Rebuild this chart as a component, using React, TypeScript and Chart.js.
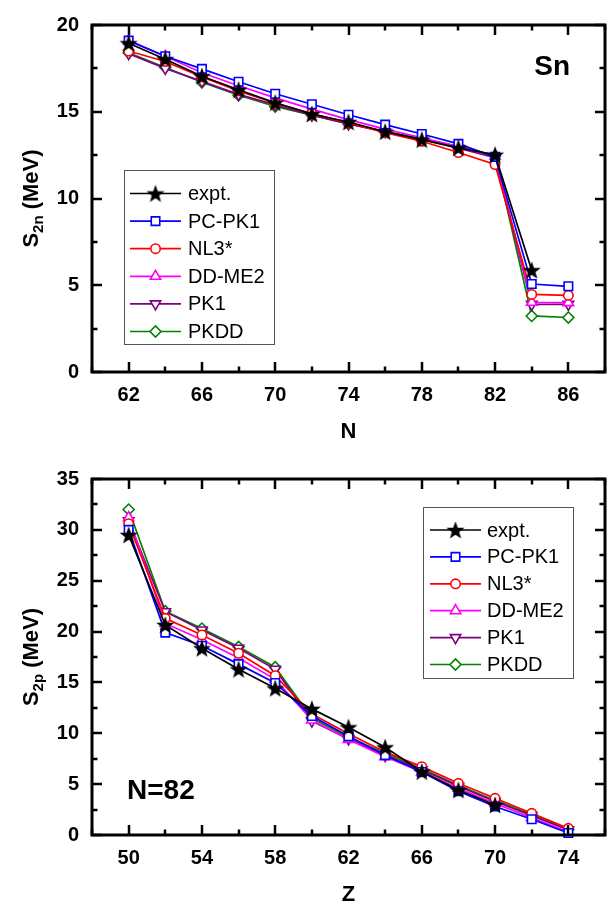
import React, { useEffect, useRef } from 'react';
import { Chart, registerables } from 'chart.js';

Chart.register(...registerables);

// ---------------- DATA ----------------
const snN = [62, 64, 66, 68, 70, 72, 74, 76, 78, 80, 82, 84, 86];
const snExpt = [18.95, 18.03, 17.05, 16.27, 15.52, 14.87, 14.41, 13.85, 13.39, 12.92, 12.52, 5.87, null];
const snPCPK1 = [19.1, 18.2, 17.47, 16.73, 16.04, 15.43, 14.83, 14.26, 13.72, 13.15, 12.4, 5.07, 4.94];
const snNL3 = [18.5, 17.9, 17.0, 16.2, 15.5, 14.9, 14.35, 13.8, 13.3, 12.65, 11.96, 4.47, 4.42];
const snDDME2 = [19.1, 18.2, 17.25, 16.5, 15.8, 15.15, 14.55, 14.0, 13.5, 13.0, 12.45, 4.02, 4.0];
const snPK1 = [18.35, 17.5, 16.75, 16.0, 15.4, 14.8, 14.3, 13.85, 13.4, 12.9, 12.35, 3.9, 3.9];
const snPKDD = [18.4, 17.55, 16.7, 15.95, 15.3, 14.8, 14.3, 13.85, 13.45, 13.0, 12.45, 3.23, 3.14];

const n82Z = [50, 52, 54, 56, 58, 60, 62, 64, 66, 68, 70, 72, 74];
const n82Expt = [29.5, 20.65, 18.36, 16.29, 14.42, 12.4, 10.59, 8.62, 6.23, 4.42, 2.95, null, null];
const n82PCPK1 = [30.0, 19.9, 18.6, 16.8, 14.95, 11.7, 9.7, 7.85, 6.2, 4.3, 2.8, 1.55, 0.2];
const n82NL3 = [30.6, 21.3, 19.67, 17.87, 15.66, 11.9, 9.95, 8.15, 6.72, 5.08, 3.61, 2.13, 0.66];
const n82DDME2 = [31.2, 20.8, 19.2, 17.4, 15.3, 11.3, 9.4, 7.7, 6.2, 4.6, 3.1, 1.7, 0.3];
const n82PK1 = [30.9, 21.95, 20.16, 18.36, 16.29, 11.2, 9.45, 7.8, 6.4, 4.8, 3.3, 1.9, 0.5];
const n82PKDD = [32.0, 22.0, 20.3, 18.5, 16.5, 11.5, 9.6, 8.0, 6.5, 4.9, 3.4, 2.0, 0.55];

const seriesLabels = ['expt.', 'PC-PK1', 'NL3*', 'DD-ME2', 'PK1', 'PKDD'];
const seriesColors = ['#000000', '#0000ff', '#ff0000', '#ff00ff', '#800080', '#008000'];
const markerStyles = ['star', 'rect', 'circle', 'triangle', 'triangleDown', 'rectRot'];
const markerRadii = [9, 6, 4.7, 6, 6, 5.5];

const FONT = '"Liberation Sans", Arial, sans-serif';

// ---------------- helpers ----------------
let starImg: HTMLCanvasElement | null = null;
function getStar(): HTMLCanvasElement {
  if (starImg) return starImg;
  const c = document.createElement('canvas');
  c.width = 20;
  c.height = 20;
  const g = c.getContext('2d')!;
  g.beginPath();
  for (let i = 0; i < 10; i++) {
    const rr = i % 2 === 0 ? 9.5 : 3.9;
    const a = -Math.PI / 2 + (i * Math.PI) / 5;
    const px = 10 + rr * Math.cos(a);
    const py = 10.8 + rr * Math.sin(a);
    if (i === 0) g.moveTo(px, py);
    else g.lineTo(px, py);
  }
  g.closePath();
  g.fillStyle = '#000';
  g.fill();
  starImg = c;
  return c;
}

function drawMarker(ctx: CanvasRenderingContext2D, style: string, x: number, y: number, r: number, color: string) {
  if (style === 'star') {
    const s = getStar();
    ctx.drawImage(s, x - s.width / 2, y - s.height / 2);
    return;
  }
  ctx.save();
  ctx.beginPath();
  if (style === 'rect') {
    const h = r * Math.SQRT1_2;
    ctx.rect(x - h, y - h, 2 * h, 2 * h);
  } else if (style === 'circle') {
    ctx.arc(x, y, r, 0, Math.PI * 2);
  } else if (style === 'triangle' || style === 'triangleDown') {
    let rad = style === 'triangle' ? 0 : Math.PI;
    for (let i = 0; i < 3; i++) {
      const px = x + Math.sin(rad) * r;
      const py = y - Math.cos(rad) * r;
      if (i === 0) ctx.moveTo(px, py);
      else ctx.lineTo(px, py);
      rad += (2 * Math.PI) / 3;
    }
    ctx.closePath();
  } else if (style === 'rectRot') {
    ctx.moveTo(x - r, y);
    ctx.lineTo(x, y - r);
    ctx.lineTo(x + r, y);
    ctx.lineTo(x, y + r);
    ctx.closePath();
  }
  ctx.fillStyle = '#fff';
  ctx.fill();
  ctx.lineWidth = 1.6;
  ctx.strokeStyle = color;
  ctx.stroke();
  ctx.restore();
}

type PanelCfg = {
  height: number;
  xs: number[];
  series: (number | null)[][];
  xMin: number;
  xMax: number;
  xFirstLabel: number;
  xLastLabel: number;
  yMax: number;
  plotTop: number;
  plotBottom: number;
  xTitle: string;
  ySub: string;
  note: string;
  noteX: number;
  noteY: number;
  noteAlign: CanvasTextAlign;
  legend: { x: number; y: number; w: number; h: number; row0: number; step: number; lx0: number; lx1: number; tx: number };
};

const PLOT_LEFT = 92;
const PLOT_RIGHT = 605;

function makePlugin(cfg: PanelCfg) {
  return {
    id: 'decor',
    afterDraw(chart: any) {
      const ctx: CanvasRenderingContext2D = chart.ctx;
      const { left, right, top, bottom } = chart.chartArea;
      const xs = chart.scales.x;
      const ys = chart.scales.y;
      ctx.save();
      // ticks
      ctx.strokeStyle = '#000';
      ctx.lineWidth = 2.5;
      ctx.lineCap = 'butt';
      for (let v = cfg.xMin; v <= cfg.xMax + 1e-6; v += 2) {
        const px = Math.round(xs.getPixelForValue(v));
        const major = (v - cfg.xFirstLabel) % 4 === 0;
        const len = major ? 10 : 5.5;
        ctx.beginPath();
        ctx.moveTo(px, bottom);
        ctx.lineTo(px, bottom - len);
        ctx.moveTo(px, top);
        ctx.lineTo(px, top + len);
        ctx.stroke();
      }
      for (let v = 0; v <= cfg.yMax + 1e-6; v += 2.5) {
        const py = Math.round(ys.getPixelForValue(v));
        const major = v % 5 === 0;
        const len = major ? 10 : 5.5;
        ctx.beginPath();
        ctx.moveTo(left, py);
        ctx.lineTo(left + len, py);
        ctx.moveTo(right, py);
        ctx.lineTo(right - len, py);
        ctx.stroke();
      }
      // frame
      ctx.lineWidth = 3;
      ctx.strokeRect(left, top, right - left, bottom - top);

      // x title
      ctx.fillStyle = '#000';
      ctx.font = `bold 22px ${FONT}`;
      ctx.textAlign = 'center';
      ctx.textBaseline = 'middle';
      ctx.fillText(cfg.xTitle, (left + right) / 2, bottom + 60);

      // y title with subscript
      const cx = 30;
      const cy = (top + bottom) / 2;
      ctx.save();
      ctx.translate(cx, cy);
      ctx.rotate(-Math.PI / 2);
      ctx.textAlign = 'left';
      ctx.textBaseline = 'alphabetic';
      const fMain = `bold 22px ${FONT}`;
      const fSub = `bold 15px ${FONT}`;
      ctx.font = fMain;
      const w1 = ctx.measureText('S').width;
      const w3 = ctx.measureText(' (MeV)').width;
      ctx.font = fSub;
      const w2 = ctx.measureText(cfg.ySub).width;
      let x = -(w1 + w2 + w3) / 2;
      ctx.font = fMain;
      ctx.fillText('S', x, 8);
      x += w1;
      ctx.font = fSub;
      ctx.fillText(cfg.ySub, x, 13);
      x += w2;
      ctx.font = fMain;
      ctx.fillText(' (MeV)', x, 8);
      ctx.restore();

      // note text
      ctx.font = `bold 28px ${FONT}`;
      ctx.textAlign = cfg.noteAlign;
      ctx.textBaseline = 'middle';
      ctx.fillText(cfg.note, cfg.noteX, cfg.noteY);

      // legend
      const L = cfg.legend;
      ctx.fillStyle = '#fff';
      ctx.fillRect(L.x, L.y, L.w, L.h);
      ctx.strokeStyle = '#555';
      ctx.lineWidth = 1;
      ctx.strokeRect(L.x + 0.5, L.y + 0.5, L.w, L.h);
      ctx.font = `20px ${FONT}`;
      ctx.textAlign = 'left';
      ctx.textBaseline = 'middle';
      for (let i = 0; i < seriesLabels.length; i++) {
        const ry = L.row0 + i * L.step;
        ctx.strokeStyle = seriesColors[i];
        ctx.lineWidth = 1.7;
        ctx.beginPath();
        ctx.moveTo(L.lx0, ry);
        ctx.lineTo(L.lx1, ry);
        ctx.stroke();
        drawMarker(ctx, markerStyles[i], (L.lx0 + L.lx1) / 2, ry, markerRadii[i], seriesColors[i]);
        ctx.fillStyle = '#000';
        ctx.fillText(seriesLabels[i], L.tx, ry + 1);
      }
      ctx.restore();
    },
  };
}

function Panel({ cfg }: { cfg: PanelCfg }) {
  const ref = useRef<HTMLCanvasElement>(null);
  useEffect(() => {
    const canvas = ref.current!;
    const datasets = cfg.series.map((vals, i) => {
      const st = markerStyles[i];
      return {
        label: seriesLabels[i],
        data: cfg.xs.map((x, k) => ({ x, y: vals[k] })),
        borderColor: seriesColors[i],
        backgroundColor: seriesColors[i],
        borderWidth: 1.7,
        pointStyle: st === 'star' ? getStar() : st === 'triangleDown' ? 'triangle' : st,
        pointRotation: st === 'triangleDown' ? 180 : 0,
        pointRadius: markerRadii[i],
        pointBorderWidth: 1.6,
        pointBorderColor: seriesColors[i],
        pointBackgroundColor: '#ffffff',
        tension: 0,
        spanGaps: false,
        clip: false as any,
      };
    });
    const chart = new Chart(canvas, {
      type: 'line',
      data: { datasets: datasets as any },
      options: {
        animation: false,
        responsive: false,
        devicePixelRatio: 1,
        layout: { padding: { left: 0, top: cfg.plotTop, right: 616 - PLOT_RIGHT, bottom: 0 } },
        plugins: { legend: { display: false }, tooltip: { enabled: false }, title: { display: false } },
        scales: {
          x: {
            type: 'linear',
            min: cfg.xMin,
            max: cfg.xMax,
            grid: { display: false, drawTicks: false },
            border: { display: false },
            ticks: {
              stepSize: 2,
              autoSkip: false,
              maxRotation: 0,
              padding: 11,
              color: '#000',
              font: { family: FONT, size: 20, weight: 'bold' },
              callback: (v: any) => {
                const n = Number(v);
                return n >= cfg.xFirstLabel && n <= cfg.xLastLabel && (n - cfg.xFirstLabel) % 4 === 0 ? String(n) : '';
              },
            },
            afterFit: (s: any) => {
              s.height = cfg.height - cfg.plotBottom;
            },
          },
          y: {
            type: 'linear',
            min: 0,
            max: cfg.yMax,
            grid: { display: false, drawTicks: false },
            border: { display: false },
            ticks: {
              stepSize: 2.5,
              autoSkip: false,
              padding: 13,
              color: '#000',
              font: { family: FONT, size: 20, weight: 'bold' },
              callback: (v: any) => {
                const n = Number(v);
                return n % 5 === 0 ? String(n) : '';
              },
            },
            afterFit: (s: any) => {
              s.width = PLOT_LEFT;
            },
          },
        },
      } as any,
      plugins: [makePlugin(cfg) as any],
    });
    return () => chart.destroy();
  }, []);
  return <canvas ref={ref} width={616} height={cfg.height} style={{ display: 'block', width: 616, height: cfg.height }} />;
}

const topCfg: PanelCfg = {
  height: 450,
  xs: snN,
  series: [snExpt, snPCPK1, snNL3, snDDME2, snPK1, snPKDD],
  xMin: 60,
  xMax: 88,
  xFirstLabel: 62,
  xLastLabel: 86,
  yMax: 20,
  plotTop: 13,
  plotBottom: 372,
  xTitle: 'N',
  ySub: '2n',
  note: 'Sn',
  noteX: 570,
  noteY: 67,
  noteAlign: 'right',
  legend: { x: 124, y: 170, w: 150, h: 174, row0: 193.5, step: 27.6, lx0: 130, lx1: 181, tx: 188 },
};

const botCfg: PanelCfg = {
  height: 460,
  xs: n82Z,
  series: [n82Expt, n82PCPK1, n82NL3, n82DDME2, n82PK1, n82PKDD],
  xMin: 48,
  xMax: 76,
  xFirstLabel: 50,
  xLastLabel: 74,
  yMax: 35,
  plotTop: 29,
  plotBottom: 385,
  xTitle: 'Z',
  ySub: '2p',
  note: 'N=82',
  noteX: 127,
  noteY: 341,
  noteAlign: 'left',
  legend: { x: 423, y: 57, w: 150, h: 171, row0: 80, step: 26.9, lx0: 430, lx1: 481, tx: 487 },
};

export default function App() {
  return (
    <div style={{ position: 'fixed', left: 0, top: 0, width: 616, height: 910, background: '#fff' }}>
      <Panel cfg={topCfg} />
      <Panel cfg={botCfg} />
    </div>
  );
}
